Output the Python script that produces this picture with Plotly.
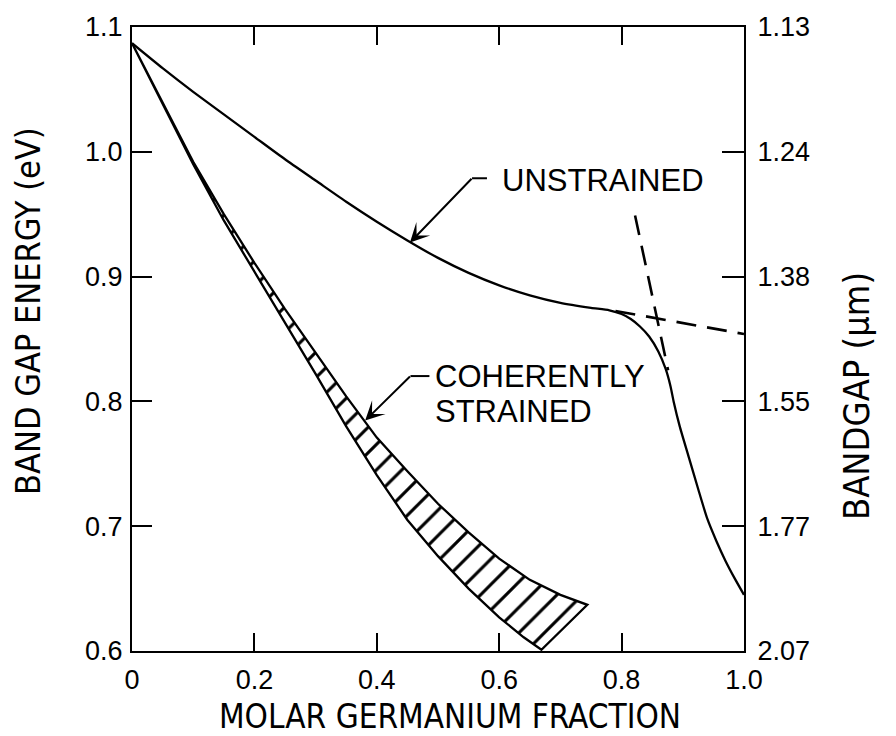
import plotly.graph_objects as go

# ---- data ----
ge_unstrained = [0.0, 0.05, 0.1, 0.15, 0.2, 0.25, 0.3, 0.35, 0.4, 0.45, 0.5, 0.55, 0.6, 0.65, 0.7, 0.75, 0.78,
                 0.80, 0.815, 0.83, 0.845, 0.86, 0.872, 0.88, 0.885, 0.895, 0.91, 0.925, 0.94, 0.955, 0.97, 0.985, 1.0]
ev_unstrained = [1.087, 1.067, 1.048, 1.030, 1.012, 0.994, 0.977, 0.960, 0.944, 0.929, 0.915, 0.903, 0.893, 0.885, 0.879, 0.875, 0.873,
                 0.870, 0.866, 0.860, 0.852, 0.840, 0.826, 0.812, 0.800, 0.780, 0.755, 0.730, 0.706, 0.688, 0.672, 0.658, 0.645]

ge_dash_upper = [0.79, 1.0]
ev_dash_upper = [0.8725, 0.854]
ge_dash_steep = [0.822, 0.876]
ev_dash_steep = [0.949, 0.825]

ge_strained_upper = [0.0, 0.05, 0.1, 0.15, 0.2, 0.25, 0.3, 0.35, 0.4, 0.45, 0.5, 0.55, 0.6, 0.65, 0.7, 0.744]
ev_strained_upper = [1.087, 1.039, 0.992, 0.950, 0.911, 0.874, 0.839, 0.804, 0.771, 0.744, 0.718, 0.695, 0.674, 0.657, 0.645, 0.637]
ge_strained_lower = [0.0, 0.05, 0.1, 0.15, 0.2, 0.25, 0.3, 0.35, 0.4, 0.45, 0.5, 0.55, 0.6, 0.64, 0.669]
ev_strained_lower = [1.087, 1.038, 0.990, 0.945, 0.904, 0.863, 0.822, 0.780, 0.741, 0.705, 0.676, 0.650, 0.627, 0.611, 0.601]

x_tickvals = [0.0, 0.2, 0.4, 0.6, 0.8, 1.0]
x_ticktext = ["0", "0.2", "0.4", "0.6", "0.8", "1.0"]
ev_tickvals = [0.6, 0.7, 0.8, 0.9, 1.0, 1.1]
ev_ticktext = ["0.6", "0.7", "0.8", "0.9", "1.0", "1.1"]
um_ticktext = ["2.07", "1.77", "1.55", "1.38", "1.24", "1.13"]

x_title = "MOLAR GERMANIUM FRACTION"
y_title = "BAND GAP ENERGY (eV)"
y2_title = "BANDGAP (μm)"

# label / leader anchor points (data coordinates)
unstrained_text = dict(x=0.601, y=0.977, text="UNSTRAINED")
unstrained_bend = dict(x0=0.580, x1=0.5556, y=0.9788)
unstrained_tip = dict(x=0.4542, y=0.9273)
coh_text1 = dict(x=0.492, y=0.8203, text="COHERENTLY")
coh_text2 = dict(x=0.492, y=0.7923, text="STRAINED")
coh_bend = dict(x0=0.486, x1=0.455, y=0.8203)
coh_tip = dict(x=0.381, y=0.7846)

BLACK = "black"
TICKFONT = dict(family="Liberation Sans, Arial, sans-serif", size=27, color=BLACK)
TITLEFONT = dict(family="Liberation Sans Narrow, DejaVu Sans Condensed, Arial Narrow, sans-serif", size=34, color=BLACK)
ANNFONT = dict(family="Liberation Sans, Arial, sans-serif", size=31, color=BLACK)

fig = go.Figure()

# strained band (hatched)
band_x = ge_strained_upper + ge_strained_lower[::-1]
band_y = ev_strained_upper + ev_strained_lower[::-1]
fig.add_trace(go.Scatter(
    x=band_x, y=band_y, mode="lines", fill="toself",
    fillcolor="white",
    fillpattern=dict(shape="/", size=18, solidity=0.17, fgcolor=BLACK, fgopacity=1,
                     bgcolor="white", fillmode="replace"),
    line=dict(color=BLACK, width=2.3), hoverinfo="skip", showlegend=False))

# unstrained solid curve
fig.add_trace(go.Scatter(x=ge_unstrained, y=ev_unstrained, mode="lines",
                         line=dict(color=BLACK, width=2.3, shape="spline", smoothing=0.6),
                         showlegend=False))
# dashed extensions
fig.add_trace(go.Scatter(x=ge_dash_upper, y=ev_dash_upper, mode="lines",
                         line=dict(color=BLACK, width=2.6, dash="20px,11px"), showlegend=False))
fig.add_trace(go.Scatter(x=ge_dash_steep, y=ev_dash_steep, mode="lines",
                         line=dict(color=BLACK, width=2.6, dash="20px,11px"), showlegend=False))

# dummy trace for right axis
fig.add_trace(go.Scatter(x=[0.0], y=[0.6], yaxis="y2", mode="lines",
                         line=dict(color="rgba(0,0,0,0)"), showlegend=False, hoverinfo="skip"))

# leaders
for b in (unstrained_bend, coh_bend):
    fig.add_shape(type="line", xref="x", yref="y", x0=b["x0"], x1=b["x1"], y0=b["y"], y1=b["y"],
                  line=dict(color=BLACK, width=2))
for b, t in ((unstrained_bend, unstrained_tip), (coh_bend, coh_tip)):
    fig.add_annotation(x=t["x"], y=t["y"], ax=b["x1"], ay=b["y"], axref="x", ayref="y",
                       xref="x", yref="y", text="", showarrow=True, font=dict(size=1),
                       borderpad=0, arrowhead=3, arrowsize=1.6, arrowwidth=2, arrowcolor=BLACK)

for a in (unstrained_text, coh_text1, coh_text2):
    fig.add_annotation(x=a["x"], y=a["y"], text=a["text"], showarrow=False,
                       xanchor="left", yanchor="middle", font=ANNFONT)

# axis titles (placed as paper annotations)
fig.add_annotation(xref="paper", yref="paper", x=0.52, y=-0.105, text=x_title, showarrow=False,
                   xanchor="center", yanchor="middle", font=dict(TITLEFONT, size=33))
fig.add_annotation(xref="paper", yref="paper", x=-0.170, y=0.545, text=y_title, showarrow=False,
                   textangle=-90, xanchor="center", yanchor="middle", font=TITLEFONT)
fig.add_annotation(xref="paper", yref="paper", x=1.185, y=0.409, text=y2_title, showarrow=False,
                   textangle=-90, xanchor="center", yanchor="middle", font=dict(TITLEFONT, size=36))

axis_common = dict(showline=True, linecolor=BLACK, linewidth=2, ticks="inside",
                   tickcolor=BLACK, tickwidth=2, showgrid=False, zeroline=False, tickfont=TICKFONT)

fig.update_layout(
    width=896, height=736,
    margin=dict(l=132, r=152, t=20, b=85),
    paper_bgcolor="white", plot_bgcolor="white",
    xaxis=dict(range=[0, 1], tickvals=x_tickvals, ticktext=x_ticktext, ticklen=18, mirror="ticks",
               ticklabelstandoff=4, **axis_common),
    yaxis=dict(range=[0.6, 1.1], tickvals=ev_tickvals, ticktext=ev_ticktext, ticklen=20,
               ticklabelstandoff=2, **axis_common),
    yaxis2=dict(range=[0.6, 1.1], overlaying="y", side="right", tickvals=ev_tickvals, ticktext=um_ticktext,
                ticklen=22, ticklabelstandoff=6, **axis_common),
    showlegend=False,
)

fig.write_html("out.html")
